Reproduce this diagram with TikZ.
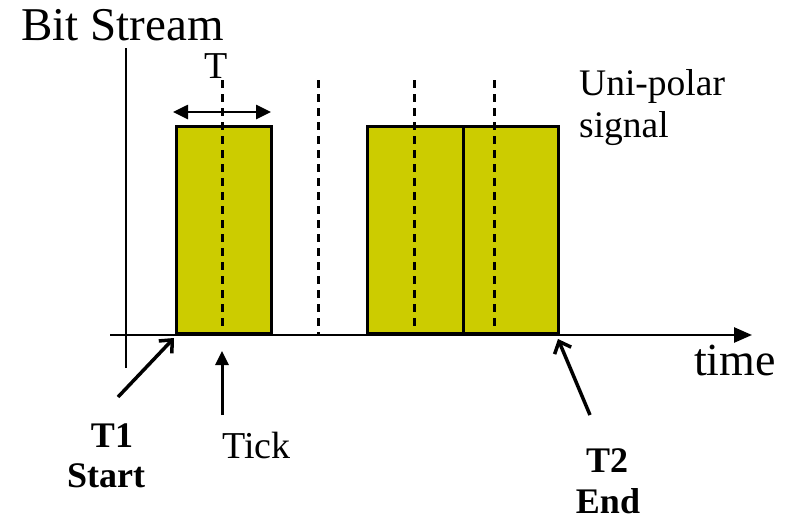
\documentclass[tikz,border=0pt]{standalone}
\usepackage{fontspec}
\setmainfont{Liberation Serif}
\usetikzlibrary{arrows.meta}
\definecolor{pulse}{RGB}{204,204,0}
\tikzset{
  pulsebox/.style={draw=black, fill=pulse, line width=3pt, minimum height=207pt, inner sep=0pt, anchor=south west},
  axisline/.style={line width=2.6pt},
  clockline/.style={line width=3pt, dash pattern=on 8pt off 6pt},
  pointer/.style={line width=3.5pt, -{Straight Barb[length=10pt,width=18pt,line width=3.5pt]}},
  solidtip/.style={line width=3pt, -{Triangle[length=14pt,width=13pt]}},
  lbl/.style={inner sep=0pt, font=\fontsize{38}{38}\selectfont},
  boldlbl/.style={inner sep=0pt, font=\fontsize{36}{36}\selectfont\bfseries},
}
\begin{document}
\begin{tikzpicture}[x=1pt,y=-1pt]
\useasboundingbox (0,0) rectangle (790,520);
% axes
\coordinate (yb) at (126,368);
\coordinate (yt) at (126,48);
\coordinate (xl) at (110,335);
\coordinate (xr) at (752,335);
\draw[axisline] (yb) -- (yt);
% pulses
\node[pulsebox, minimum width=95pt] (p1) at (175,335) {};
\node[pulsebox, minimum width=96pt] (p2) at (366,335) {};
\node[pulsebox, minimum width=95pt] (p3) at (462,335) {};
\draw[axisline, -{Triangle[length=18pt,width=15pt]}] (xl) -- (xr);
% clock ticks
\coordinate (c1t) at (222,80); \coordinate (c1b) at (222,335);
\coordinate (c2t) at (318,80); \coordinate (c2b) at (318,335);
\coordinate (c3t) at (414,80); \coordinate (c3b) at (414,335);
\coordinate (c4t) at (494,80); \coordinate (c4b) at (494,335);
\foreach \i in {1,...,4} \draw[clockline] (c\i t) -- (c\i b);
% bit period
\coordinate (tl) at (173,112);
\coordinate (tr) at (271,112);
\draw[line width=2.6pt, {Triangle[length=15pt,width=14pt]}-{Triangle[length=15pt,width=14pt]}] (tl) -- (tr);
% labels
\node[inner sep=0pt, anchor=base west, font=\fontsize{47}{47}\selectfont] (title) at (21,40) {Bit Stream};
\node[lbl, anchor=base] (tlab) at (216,78) {T};
\node[inner sep=0pt, anchor=base west, font=\fontsize{37.5}{37.5}\selectfont] (uni) at (579,95) {Uni-polar};
\node[inner sep=0pt, anchor=base west, font=\fontsize{37.5}{37.5}\selectfont] (sig) at (579,137) {signal};
\node[inner sep=0pt, anchor=base west, font=\fontsize{46}{46}\selectfont] (time) at (694,375) {time};
\node[boldlbl, anchor=base] (t1) at (112,447) {T1};
\node[boldlbl, anchor=base] (start) at (106,487) {Start};
\node[lbl, anchor=base west] (tick) at (222,458) {Tick};
\node[boldlbl, anchor=base] (t2) at (607,472) {T2};
\node[boldlbl, anchor=base] (end) at (608,513) {End};
% pointers
\coordinate (a1) at (118,397); \coordinate (a1h) at (174,338);
\coordinate (a2) at (222,415); \coordinate (a2h) at (222,351);
\coordinate (a3) at (590,415); \coordinate (a3h) at (558,339);
\draw[pointer] (a1) -- (a1h);
\draw[solidtip] (a2) -- (a2h);
\draw[pointer] (a3) -- (a3h);
\end{tikzpicture}
\end{document}
